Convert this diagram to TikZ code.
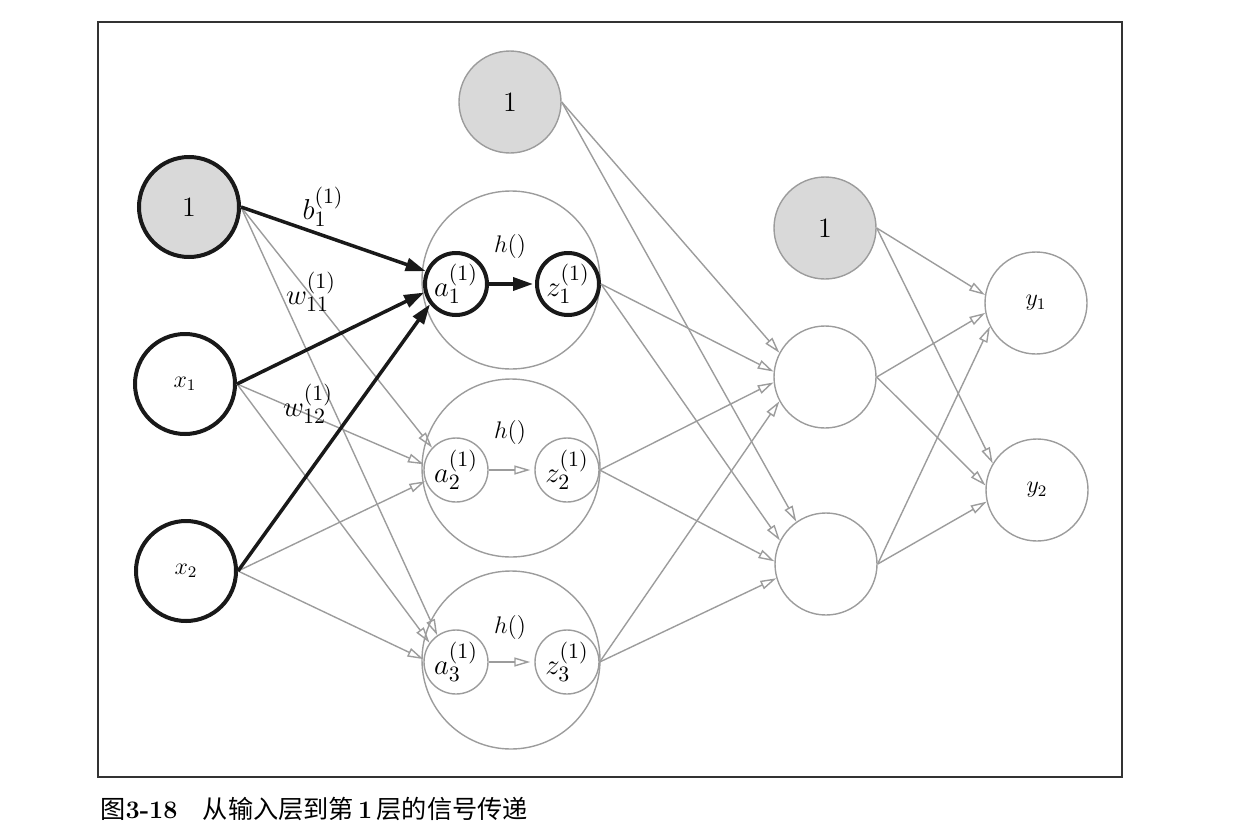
\documentclass[tikz,border=0pt]{standalone}
\usepackage{fontspec}
\newfontfamily\cjk{Noto Sans CJK SC}
\usetikzlibrary{arrows.meta}
\definecolor{linegray}{HTML}{9C9C9C}
\definecolor{biasgray}{HTML}{D9D9D9}

\begin{document}
\begin{tikzpicture}[
  nnunit/.style   = {circle, draw=linegray, line width=0.7pt, minimum size=51pt, inner sep=0pt, font=\fontsize{12}{14}\selectfont},
  nninput/.style  = {nnunit, draw=black!90, line width=2pt, minimum size=50pt},
  nnbias/.style   = {nnunit, fill=biasgray, font=\fontsize{14}{16}\selectfont},
  nnbiasin/.style = {nninput, fill=biasgray, font=\fontsize{14}{16}\selectfont},
  nnlayer/.style  = {circle, draw=linegray, line width=0.7pt, minimum size=89pt, inner sep=0pt},
  nnsub/.style    = {circle, draw=linegray, line width=0.7pt, minimum size=32pt, inner sep=0pt, font=\fontsize{15}{17}\selectfont},
  nnsubon/.style  = {nnsub, draw=black!90, line width=2pt, minimum size=31pt},
  nnlabel/.style  = {inner sep=0pt, font=\fontsize{15}{17}\selectfont},
  nnfunc/.style   = {inner sep=0pt, font=\fontsize{13}{15}\selectfont},
  nnlink/.style   = {draw=linegray, line width=0.7pt, -{Triangle[open, length=8pt, width=4.5pt]}},
  nnlinkon/.style = {draw=black!90, line width=1.75pt, -{Triangle[length=10pt, width=6.5pt]}},
  x=0.5pt, y=-0.5pt,
]
  \useasboundingbox (0,0) rectangle (1257,830);
  \draw[black!80, line width=0.6pt] (98,22) rectangle (1122,777);

  \node[nnbiasin] (b0) at (189,207) {1};
  \node[nninput]  (x1) at (185,384) {$x_1$};
  \node[nninput]  (x2) at (186,571) {$x_2$};

  \node[nnbias]  (b1) at (510,102) {1};
  \node[nnlayer] (h1) at (511,280) {};
  \node[nnlayer] (h2) at (511,468) {};
  \node[nnlayer] (h3) at (511,660) {};
  \node[nnsubon] (a1) at (456,284) {$a_1^{(1)}$};
  \node[nnsubon] (z1) at (568,284) {$z_1^{(1)}$};
  \node[nnsub]   (a2) at (456,470) {$a_2^{(1)}$};
  \node[nnsub]   (z2) at (567,470) {$z_2^{(1)}$};
  \node[nnsub]   (a3) at (456,662) {$a_3^{(1)}$};
  \node[nnsub]   (z3) at (567,662) {$z_3^{(1)}$};
  \node[nnfunc]  (f1) at (510,246) {$h()$};
  \node[nnfunc]  (f2) at (510,432) {$h()$};
  \node[nnfunc]  (f3) at (510,627) {$h()$};

  \node[nnbias] (b2) at (825,228) {1};
  \node[nnunit] (n1) at (825,377) {};
  \node[nnunit] (n2) at (826,564) {};

  \node[nnunit] (y1) at (1036,303) {$y_1$};
  \node[nnunit] (y2) at (1037,490) {$y_2$};

  \draw[nnlink] (b0.east) -- (a2.137);
  \draw[nnlink] (x1.east) -- (a2.170);
  \draw[nnlink] (x2.east) -- (a2.200);
  \draw[nnlink] (b0.east) -- (a3.125);
  \draw[nnlink] (x1.east) -- (a3.144);
  \draw[nnlink] (x2.east) -- (a3.175);
  \draw[nnlink, shorten >=2pt] (a2) -- (z2);
  \draw[nnlink, shorten >=2pt] (a3) -- (z3);

  \draw[nnlink] (b1.east) -- (n1.152);
  \draw[nnlink] (z1.east) -- (n1.174);
  \draw[nnlink] (z2.east) -- (n1.186);
  \draw[nnlink] (z3.east) -- (n1.208);
  \draw[nnlink] (b1.east) -- (n2.125);
  \draw[nnlink] (z1.east) -- (n2.153);
  \draw[nnlink] (z2.east) -- (n2.177);
  \draw[nnlink] (z3.east) -- (n2.196);

  \draw[nnlink] (b2.east) -- (y1.171);
  \draw[nnlink] (n1.east) -- (y1.191);
  \draw[nnlink] (n2.east) -- (y1.207);
  \draw[nnlink] (b2.east) -- (y2.149);
  \draw[nnlink] (n1.east) -- (y2.175);
  \draw[nnlink] (n2.east) -- (y2.193);

  \draw[nnlinkon] (b0.east) -- (a1.157);
  \draw[nnlinkon] (x1.east) -- (a1.195);
  \draw[nnlinkon] (x2.east) -- (a1.218);
  \draw[nnlinkon, shorten >=1pt] (a1) -- (z1);

  \node[nnlabel] (lb)   at (323,207) {$b_1^{(1)}$};
  \node[nnlabel] (lw11) at (311,292) {$w_{11}^{(1)}$};
  \node[nnlabel] (lw12) at (308,404) {$w_{12}^{(1)}$};

  \node[anchor=base west, inner sep=0pt, font=\fontsize{12.6}{15}\selectfont] (cap) at (100,818)
    {\cjk 图{\rmfamily\bfseries 3-18}\hspace{1em}从输入层到第{\rmfamily\bfseries\,1\,}层的信号传递};
\end{tikzpicture}
\end{document}
